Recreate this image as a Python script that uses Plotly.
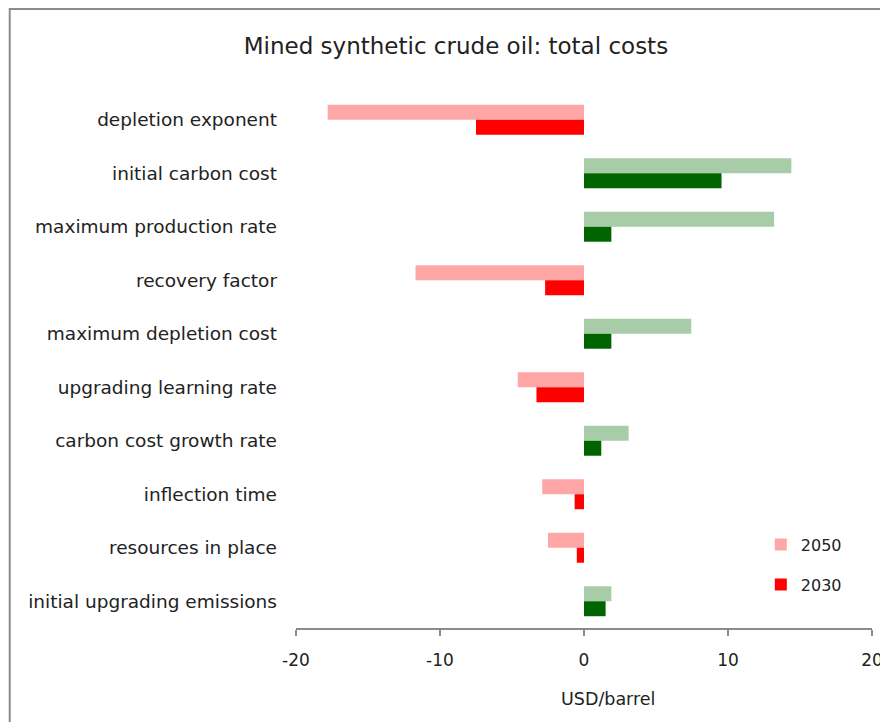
import plotly.graph_objects as go

# data (USD/barrel)
categories = [
    "depletion exponent",
    "initial carbon cost",
    "maximum production rate",
    "recovery factor",
    "maximum depletion cost",
    "upgrading learning rate",
    "carbon cost growth rate",
    "inflection time",
    "resources in place",
    "initial upgrading emissions",
]
values_2050 = [-17.8, 14.4, 13.2, -11.7, 7.45, -4.6, 3.1, -2.9, -2.5, 1.9]
values_2030 = [-7.5, 9.55, 1.9, -2.7, 1.9, -3.3, 1.2, -0.65, -0.5, 1.5]

x_ticks = [-20, -10, 0, 10, 20]
x_tick_labels = ["-20", "-10", "0", "10", "20"]

LIGHT_NEG, LIGHT_POS = "#ffa6a6", "#a8cba8"
DARK_NEG, DARK_POS = "#ff0000", "#006400"
FONT = "DejaVu Sans, Arial, sans-serif"


def colours(vals, neg, pos):
    return [neg if v < 0 else pos for v in vals]


fig = go.Figure()
fig.add_trace(go.Bar(
    y=categories, x=values_2050, orientation="h", name="2050", legendgroup="a",
    marker=dict(color=colours(values_2050, LIGHT_NEG, LIGHT_POS), line=dict(width=0)),
))
fig.add_trace(go.Bar(
    y=categories, x=values_2030, orientation="h", name="2030", legendgroup="b",
    marker=dict(color=colours(values_2030, DARK_NEG, DARK_POS), line=dict(width=0)),
))

# outer chart frame (like the spreadsheet chart border)
fig.add_shape(type="rect", xref="paper", yref="paper",
              x0=-0.497, x1=1.2, y0=-0.4, y1=1.157,
              line=dict(color="#8c8c8c", width=2), layer="below")

fig.add_annotation(text="USD/barrel", xref="paper", yref="paper",
                   x=0.542, y=-0.155, showarrow=False,
                   font=dict(size=17.5, color="#222222"))

# the page body adds an 8px margin, so the figure is 8px smaller
fig.update_layout(
    width=880, height=714,
    margin=dict(l=288, r=16, t=85, b=94),
    paper_bgcolor="white", plot_bgcolor="white",
    font=dict(family=FONT, size=16, color="#222222"),
    title=dict(text="Mined synthetic crude oil: total costs", x=0.509, xanchor="center",
               y=0.947, yanchor="middle", font=dict(size=23, color="#222222")),
    barmode="group", bargap=0.44, bargroupgap=0,
    showlegend=True,
    legend=dict(x=0.807, y=0.1875, xanchor="left", yanchor="top",
                font=dict(size=16), bgcolor="rgba(0,0,0,0)",
                itemwidth=30, tracegroupgap=16),
)

fig.update_xaxes(range=[-20, 20], tickvals=x_ticks, ticktext=x_tick_labels,
                 showgrid=False, zeroline=False,
                 showline=True, linecolor="#8c8c8c", linewidth=1.5,
                 ticks="outside", ticklen=6, tickcolor="#8c8c8c", tickwidth=1.5,
                 ticklabelstandoff=10,
                 tickfont=dict(size=17), automargin=False)
fig.update_yaxes(autorange="reversed", showgrid=False, zeroline=False, showline=False,
                 ticks="", ticklabelstandoff=18, tickfont=dict(size=18.5), automargin=False)

fig.write_html("out.html")
